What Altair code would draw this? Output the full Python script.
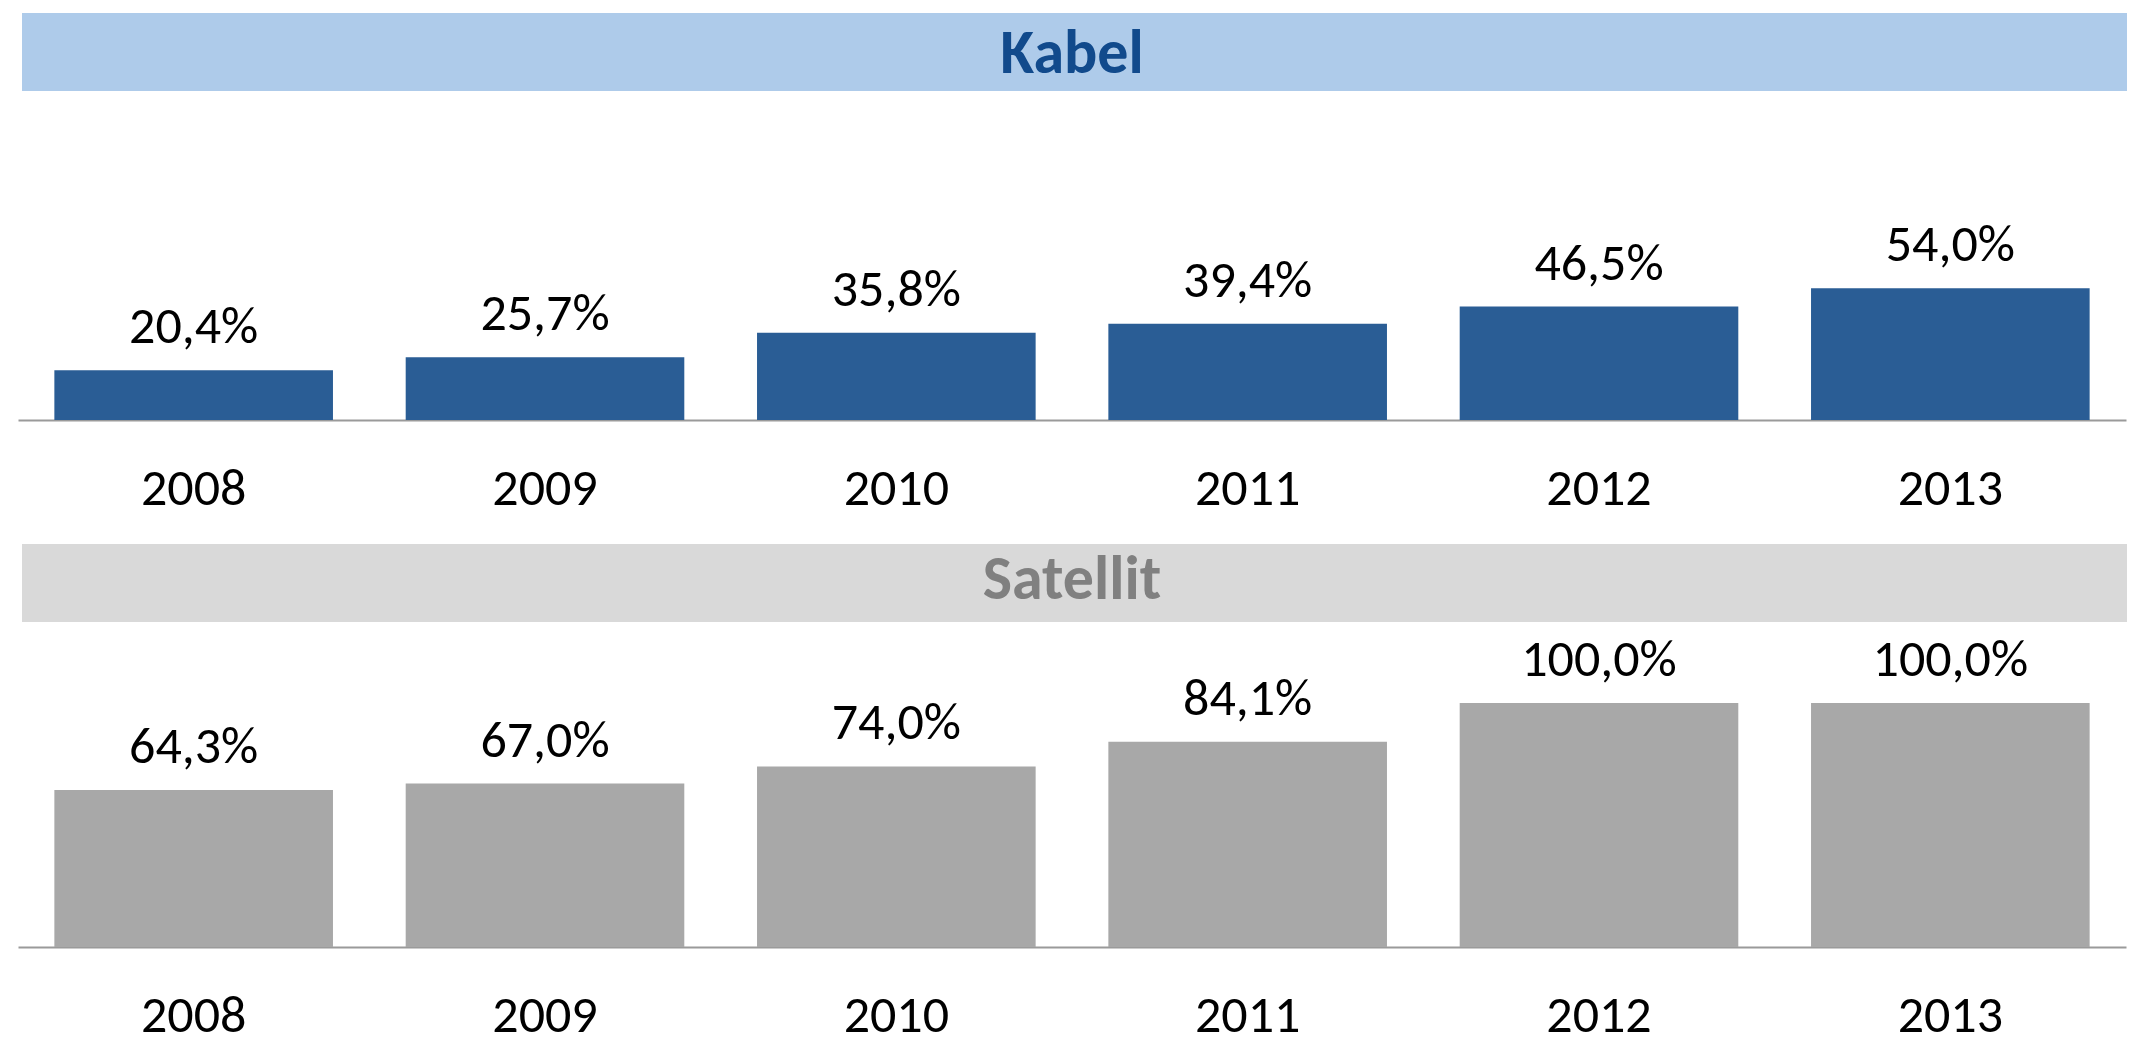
import altair as alt
import pandas as pd

years = ["2008", "2009", "2010", "2011", "2012", "2013"]
kabel = [20.4, 25.7, 35.8, 39.4, 46.5, 54.0]
satellit = [64.3, 67.0, 74.0, 84.1, 100.0, 100.0]
panel_titles = ["Kabel", "Satellit"]

FONT = "Carlito, Calibri, 'Liberation Sans Narrow', 'Open Sans', sans-serif"
W = 2108
PX_PER_UNIT = 2.44


def fmt(v):
    return f"{v:.1f}".replace(".", ",") + "%"


def panel(title, values, bar_color, head_fill, head_color, height, title_y):
    df = pd.DataFrame({"year": years, "value": values,
                       "label": [fmt(v) for v in values]})
    ymax = height / PX_PER_UNIT
    x = alt.X("year:N", sort=years,
              scale=alt.Scale(paddingInner=0.207, paddingOuter=0.1035),
              axis=alt.Axis(title=None, labelAngle=0, labelFont=FONT,
                            labelFontSize=52, labelColor="black",
                            labelPadding=84, labelBaseline="alphabetic",
                            ticks=False, domainColor="#9A9A9A",
                            domainWidth=2, grid=False))
    y = alt.Y("value:Q", scale=alt.Scale(domain=[0, ymax], nice=False),
              axis=None)
    base = alt.Chart(df)
    bars = base.mark_bar(color=bar_color).encode(x=x, y=y)
    labels = base.mark_text(font=FONT, fontSize=52, color="black",
                            baseline="alphabetic", dy=-27).encode(
        x=x, y=y, text="label:N")
    tdf = pd.DataFrame({"t": [title]})
    head = alt.Chart(tdf).mark_rect(color=head_fill).encode(
        x=alt.value(4), x2=alt.value(W + 1), y=alt.value(0), y2=alt.value(78))
    htext = alt.Chart(tdf).mark_text(font=FONT, fontSize=62, fontWeight="bold",
                                     color=head_color, baseline="alphabetic",
                                     align="center").encode(
        x=alt.value(W / 2), y=alt.value(title_y), text="t:N")
    return alt.layer(head, htext, bars, labels).properties(width=W, height=height)


p1 = panel(panel_titles[0], kabel, "#2A5D95", "#AECBEA", "#114A8C", 407, 60)
p2 = panel(panel_titles[1], satellit, "#A8A8A8", "#D9D9D9", "#808080", 403, 55)

chart = alt.vconcat(p1, p2, spacing=30).properties(
    padding={"left": 10, "top": 5, "right": 0, "bottom": 0},
    background="white",
).configure_view(stroke=None)

chart.save("out.html", embed_options={"renderer": "svg", "actions": False})
